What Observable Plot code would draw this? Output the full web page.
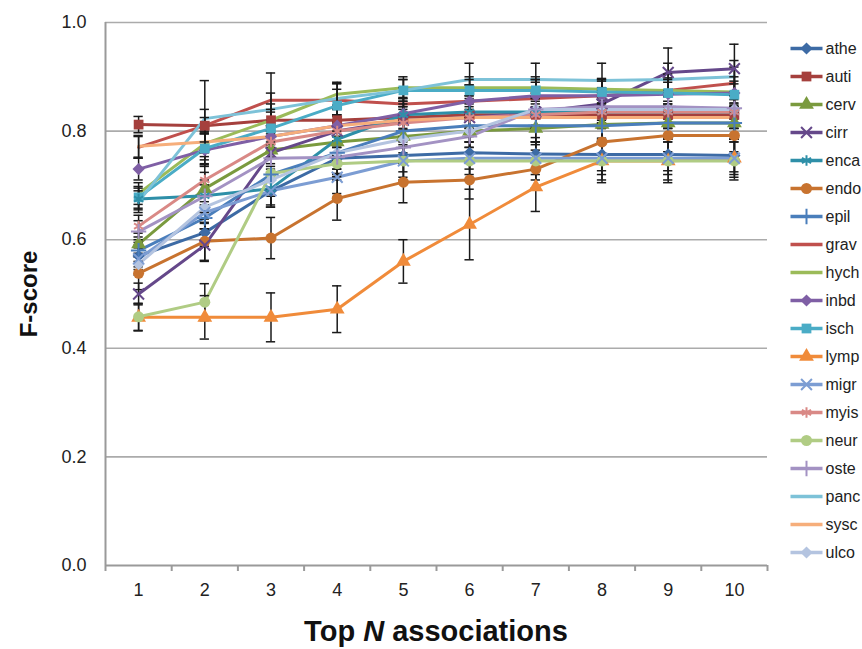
<!DOCTYPE html>
<html><head><meta charset="utf-8">
<script src="https://cdn.jsdelivr.net/npm/d3@7"></script>
<script src="https://cdn.jsdelivr.net/npm/@observablehq/plot@0.6"></script>
<style>
body{margin:0;background:#fff;font-family:"Liberation Sans",Arial,sans-serif;}
#wrap{position:relative;width:862px;height:649px;overflow:hidden;background:#fff;}
#chart{position:absolute;left:0;top:0;}
#legend{position:absolute;left:788px;top:0;}
#title{position:absolute;left:105px;width:662px;top:613px;text-align:center;font-size:29px;font-weight:bold;color:#111;line-height:37px;}
</style></head><body>
<div id="wrap"><div id="chart"></div><div id="legend"></div><div id="title">Top <i>N</i> associations</div></div>
<script>
// ---- data ----
const categories = [1, 2, 3, 4, 5, 6, 7, 8, 9, 10];
const yTicks = [0, 0.2, 0.4, 0.6, 0.8, 1.0];
const seriesNames = ["athe","auti","cerv","cirr","enca","endo","epil","grav","hych","inbd","isch","lymp","migr","myis","neur","oste","panc","sysc","ulco"];

const athe = [0.570, 0.613, 0.690, 0.750, 0.755, 0.760, 0.758, 0.757, 0.757, 0.755];
const auti = [0.812, 0.810, 0.820, 0.820, 0.825, 0.830, 0.830, 0.830, 0.830, 0.830];
const cerv = [0.592, 0.694, 0.765, 0.780, 0.790, 0.800, 0.805, 0.812, 0.815, 0.815];
const cirr = [0.500, 0.590, 0.760, 0.800, 0.820, 0.825, 0.835, 0.850, 0.908, 0.915];
const enca = [0.675, 0.681, 0.694, 0.785, 0.830, 0.835, 0.835, 0.835, 0.835, 0.835];
const endo = [0.538, 0.597, 0.603, 0.676, 0.706, 0.710, 0.730, 0.780, 0.792, 0.792];
const epil = [0.580, 0.640, 0.720, 0.760, 0.800, 0.810, 0.810, 0.810, 0.815, 0.815];
const grav = [0.770, 0.810, 0.857, 0.857, 0.850, 0.855, 0.860, 0.865, 0.875, 0.888];
const hych = [0.685, 0.777, 0.820, 0.868, 0.880, 0.880, 0.880, 0.877, 0.875, 0.872];
const inbd = [0.730, 0.765, 0.790, 0.810, 0.832, 0.855, 0.865, 0.865, 0.868, 0.870];
const isch = [0.678, 0.768, 0.805, 0.847, 0.875, 0.875, 0.875, 0.872, 0.870, 0.867];
const lymp = [0.457, 0.457, 0.457, 0.472, 0.560, 0.628, 0.697, 0.745, 0.745, 0.750];
const migr = [0.565, 0.650, 0.690, 0.715, 0.745, 0.750, 0.750, 0.750, 0.750, 0.750];
const myis = [0.625, 0.710, 0.780, 0.800, 0.815, 0.825, 0.830, 0.835, 0.835, 0.835];
const neur = [0.458, 0.485, 0.722, 0.740, 0.745, 0.745, 0.745, 0.745, 0.745, 0.745];
const oste = [0.615, 0.680, 0.750, 0.752, 0.770, 0.790, 0.840, 0.845, 0.845, 0.842];
const panc = [0.670, 0.823, 0.840, 0.860, 0.875, 0.895, 0.895, 0.893, 0.895, 0.900];
const sysc = [0.772, 0.780, 0.790, 0.810, 0.820, 0.825, 0.825, 0.825, 0.825, 0.825];
const ulco = [0.555, 0.660, 0.710, 0.760, 0.785, 0.800, 0.840, 0.840, 0.840, 0.840];

const athe_err = [0.020, 0.025, 0.030, 0.030, 0.030, 0.030, 0.030, 0.030, 0.030, 0.030];
const auti_err = [0.015, 0.015, 0.020, 0.020, 0.020, 0.020, 0.020, 0.020, 0.020, 0.020];
const cerv_err = [0.020, 0.030, 0.030, 0.030, 0.030, 0.030, 0.030, 0.030, 0.030, 0.030];
const cirr_err = [0.020, 0.030, 0.030, 0.030, 0.030, 0.030, 0.030, 0.030, 0.045, 0.045];
const enca_err = [0.020, 0.020, 0.030, 0.030, 0.030, 0.030, 0.030, 0.030, 0.030, 0.030];
const endo_err = [0.030, 0.035, 0.038, 0.040, 0.038, 0.035, 0.035, 0.035, 0.030, 0.030];
const epil_err = [0.020, 0.030, 0.030, 0.030, 0.030, 0.030, 0.030, 0.030, 0.030, 0.030];
const grav_err = [0.020, 0.030, 0.050, 0.030, 0.030, 0.030, 0.030, 0.030, 0.030, 0.030];
const hych_err = [0.020, 0.030, 0.030, 0.020, 0.020, 0.020, 0.020, 0.020, 0.020, 0.020];
const inbd_err = [0.020, 0.030, 0.030, 0.030, 0.030, 0.030, 0.030, 0.030, 0.030, 0.030];
const isch_err = [0.020, 0.030, 0.030, 0.030, 0.020, 0.020, 0.020, 0.020, 0.020, 0.020];
const lymp_err = [0.025, 0.040, 0.045, 0.043, 0.040, 0.065, 0.045, 0.035, 0.035, 0.035];
const migr_err = [0.020, 0.030, 0.030, 0.030, 0.030, 0.030, 0.030, 0.030, 0.030, 0.030];
const myis_err = [0.020, 0.030, 0.030, 0.030, 0.030, 0.030, 0.030, 0.030, 0.030, 0.030];
const neur_err = [0.025, 0.034, 0.030, 0.030, 0.035, 0.035, 0.035, 0.040, 0.040, 0.035];
const oste_err = [0.020, 0.030, 0.030, 0.030, 0.030, 0.030, 0.030, 0.030, 0.030, 0.030];
const panc_err = [0.020, 0.070, 0.030, 0.030, 0.020, 0.030, 0.030, 0.032, 0.030, 0.030];
const sysc_err = [0.020, 0.020, 0.020, 0.020, 0.020, 0.020, 0.020, 0.020, 0.020, 0.020];
const ulco_err = [0.020, 0.030, 0.030, 0.030, 0.030, 0.030, 0.030, 0.030, 0.030, 0.030];

const seriesColors = ["#3D6BA5","#A5403D","#7A9A3E","#65488A","#2E8FA8","#C8732F","#4A7EBB","#C0504D","#9BBB59","#7F5FA5","#4AACC6","#F08B3A","#7C9DD3","#D98986","#B0CC84","#A392C3","#7DC2D8","#F6AE7B","#B4C4E0"];
const seriesSymbols = ["diamond2","square","triangle","times","asterisk","circle","plus",null,null,"diamond2","square","triangle","times","asterisk","circle","plus",null,null,"diamond2"];

// ---- build tidy table ----
const valueTable = {athe,auti,cerv,cirr,enca,endo,epil,grav,hych,inbd,isch,lymp,migr,myis,neur,oste,panc,sysc,ulco};
const errTable = {athe:athe_err,auti:auti_err,cerv:cerv_err,cirr:cirr_err,enca:enca_err,endo:endo_err,epil:epil_err,grav:grav_err,hych:hych_err,inbd:inbd_err,isch:isch_err,lymp:lymp_err,migr:migr_err,myis:myis_err,neur:neur_err,oste:oste_err,panc:panc_err,sysc:sysc_err,ulco:ulco_err};
const symbolOf = Object.fromEntries(seriesNames.map((s, i) => [s, seriesSymbols[i]]));
const filledSyms = new Set(["diamond2","square","triangle","circle"]);
const strokeSyms = new Set(["times","asterisk","plus"]);
const tidy = [];
seriesNames.forEach(s => categories.forEach((c, j) => tidy.push({series: s, x: c, y: valueTable[s][j], e: errTable[s][j], sym: symbolOf[s]})));
const boundaries = [0.5, ...categories.map(c => c + 0.5)];
const colorScale = {domain: seriesNames, range: seriesColors};
const fontFamily = '"Liberation Sans", Arial, sans-serif';

const chart = Plot.plot({
  width: 862, height: 612,
  marginLeft: 105, marginRight: 95, marginTop: 22, marginBottom: 47,
  style: {fontFamily, fontSize: "18px", background: "transparent", overflow: "visible"},
  x: {type: "linear", domain: [0.5, 10.5]},
  y: {domain: [0, 1]},
  color: colorScale,
  marks: [
    Plot.ruleY(yTicks.filter(d => d > 0), {stroke: "#ABABAB", strokeWidth: 1.6}),
    Plot.ruleY([0], {stroke: "#9A9A9A", strokeWidth: 2}),
    Plot.ruleX([0.5], {stroke: "#9A9A9A", strokeWidth: 2}),
    Plot.axisX(boundaries, {tickSize: 6, tickFormat: () => "", stroke: "#9A9A9A", strokeWidth: 2, label: null}),
    Plot.axisX(categories, {tickSize: 0, tickPadding: 18, fontSize: 18, fill: "#222", label: null}),
    Plot.axisY(yTicks, {tickSize: 0, tickPadding: 19, fontSize: 18, fill: "#222", tickFormat: d3.format(".1f"), label: null}),
    Plot.text(["F-score"], {text: d => d, frameAnchor: "left", textAnchor: "middle", dx: -76, rotate: -90, fontSize: 24, fontWeight: "bold", fill: "#111"}),
    Plot.line(tidy, {x: "x", y: "y", z: "series", stroke: "series", strokeWidth: 3, strokeLinejoin: "round"}),
    Plot.ruleX(tidy, {x: "x", y1: d => d.y - d.e, y2: d => d.y + d.e, stroke: "#1a1a1a", strokeWidth: 1.5}),
    Plot.ruleY(tidy, {y: d => d.y + d.e, x1: d => d.x - 0.07, x2: d => d.x + 0.07, stroke: "#1a1a1a", strokeWidth: 1.5}),
    Plot.ruleY(tidy, {y: d => d.y - d.e, x1: d => d.x - 0.07, x2: d => d.x + 0.07, stroke: "#1a1a1a", strokeWidth: 1.5}),
    Plot.dot(tidy.filter(d => filledSyms.has(d.sym)), {x: "x", y: "y", fill: "series", symbol: "sym", r: 5.5}),
    Plot.dot(tidy.filter(d => strokeSyms.has(d.sym)), {x: "x", y: "y", stroke: "series", symbol: "sym", r: 5, strokeWidth: 2})
  ]
});
document.getElementById("chart").appendChild(chart);

// ---- legend ----
const legend = Plot.plot({
  width: 74, height: 580, margin: 0,
  style: {fontFamily, fontSize: "16px", background: "transparent"},
  x: {domain: [0, 1], range: [2, 34], axis: null},
  y: {type: "point", domain: seriesNames, range: [42, 557], padding: 0, axis: null},
  color: colorScale,
  marks: [
    Plot.link(seriesNames, {x1: () => 0, x2: () => 1, y1: d => d, y2: d => d, stroke: d => d, strokeWidth: 3.5}),
    Plot.dot(seriesNames.filter(s => filledSyms.has(symbolOf[s])), {x: () => 0.5, y: d => d, fill: d => d, symbol: d => symbolOf[d], r: 5.5}),
    Plot.dot(seriesNames.filter(s => strokeSyms.has(symbolOf[s])), {x: () => 0.5, y: d => d, stroke: d => d, symbol: d => symbolOf[d], r: 5, strokeWidth: 2}),
    Plot.text(seriesNames, {x: () => 1, y: d => d, text: d => d, dx: 3, textAnchor: "start", fontSize: 16, fill: "#222"})
  ]
});
document.getElementById("legend").appendChild(legend);
</script>
</body></html>
